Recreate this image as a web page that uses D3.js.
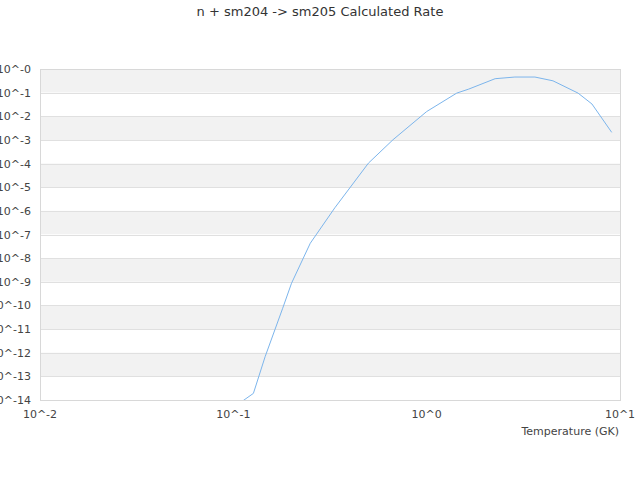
<!DOCTYPE html>
<html>
<head>
<meta charset="utf-8">
<script src="https://cdn.jsdelivr.net/npm/d3@7.9.0/dist/d3.min.js"></script>
<style>
  body { margin: 0; background: #fff; }
  text { font-family: "DejaVu Sans", sans-serif; }
</style>
</head>
<body>
<svg id="chart" width="640" height="480"></svg>
<script>
// temperature (GK) and calculated rate
const temps = [0.11, 0.127, 0.146, 0.18, 0.2, 0.25, 0.335, 0.5, 0.67, 1.0, 1.43, 1.65, 2.26, 2.86, 3.63, 4.5, 6.07, 7.16, 9.06];
const logRates = [-14.08, -13.72, -12.17, -10.12, -9.06, -7.37, -5.87, -3.98, -2.99, -1.8, -1.02, -0.85, -0.41, -0.34, -0.34, -0.5, -1.02, -1.48, -2.68];
const xTicks = [0.01, 0.1, 1, 10];
const xTickLabels = ["10^-2", "10^-1", "10^0", "10^1"];
const yTicks = d3.range(0, 15).map(i => Math.pow(10, -i));
const yTickLabels = d3.range(0, 15).map(i => "10^-" + i);

const width = 640, height = 480;
const margin = { top: 69, right: 20, bottom: 80, left: 40 };

const svg = d3.select("#chart");

const x = d3.scaleLog().domain([0.01, 10]).range([margin.left, width - margin.right]);
const y = d3.scaleLog().domain([1e-14, 1]).range([height - margin.bottom, margin.top]);

// alternating bands
const bands = yTicks.slice(0, -1).map((t, i) => ({ hi: t, lo: yTicks[i + 1], i }));
svg.append("g")
  .selectAll("rect")
  .data(bands)
  .join("rect")
  .attr("x", margin.left)
  .attr("width", x.range()[1] - x.range()[0])
  .attr("y", d => y(d.hi))
  .attr("height", d => y(d.lo) - y(d.hi))
  .attr("fill", d => d.i % 2 === 0 ? "#f2f2f2" : "#ffffff");

// horizontal grid lines
svg.append("g")
  .selectAll("line")
  .data(yTicks)
  .join("line")
  .attr("x1", margin.left)
  .attr("x2", width - margin.right)
  .attr("y1", d => Math.round(y(d)) + 0.5)
  .attr("y2", d => Math.round(y(d)) + 0.5)
  .attr("stroke", "#e0e0e0");

// plot border
svg.append("rect")
  .attr("x", margin.left + 0.5)
  .attr("y", margin.top + 0.5)
  .attr("width", x.range()[1] - x.range()[0])
  .attr("height", y.range()[0] - y.range()[1])
  .attr("fill", "none")
  .attr("stroke", "#d8d8d8");

// y tick labels
svg.append("g")
  .selectAll("text")
  .data(yTicks)
  .join("text")
  .attr("x", margin.left - 9)
  .attr("y", d => y(d) + 4)
  .attr("text-anchor", "end")
  .attr("font-size", 11)
  .attr("fill", "#444")
  .text((d, i) => yTickLabels[i]);

// x tick labels
svg.append("g")
  .selectAll("text")
  .data(xTicks)
  .join("text")
  .attr("x", d => x(d))
  .attr("y", y.range()[0] + 18)
  .attr("text-anchor", "middle")
  .attr("font-size", 11)
  .attr("fill", "#444")
  .text((d, i) => xTickLabels[i]);

// x axis title
svg.append("text")
  .attr("x", width - margin.right - 1)
  .attr("y", y.range()[0] + 35)
  .attr("text-anchor", "end")
  .attr("font-size", 11)
  .attr("fill", "#444")
  .text("Temperature (GK)");

// chart title
svg.append("text")
  .attr("x", width / 2)
  .attr("y", 16)
  .attr("text-anchor", "middle")
  .attr("font-size", 13)
  .attr("fill", "#333")
  .text("n + sm204 -> sm205 Calculated Rate");

// clip and line
svg.append("clipPath").attr("id", "clip")
  .append("rect")
  .attr("x", margin.left)
  .attr("y", margin.top)
  .attr("width", x.range()[1] - x.range()[0])
  .attr("height", y.range()[0] - y.range()[1]);

const points = temps.map((t, i) => [t, Math.pow(10, logRates[i])]);
const line = d3.line().x(d => x(d[0])).y(d => y(d[1]));

svg.append("path")
  .datum(points)
  .attr("clip-path", "url(#clip)")
  .attr("d", line)
  .attr("fill", "none")
  .attr("stroke", "#7cb5ec")
  .attr("stroke-width", 1);
</script>
</body>
</html>
